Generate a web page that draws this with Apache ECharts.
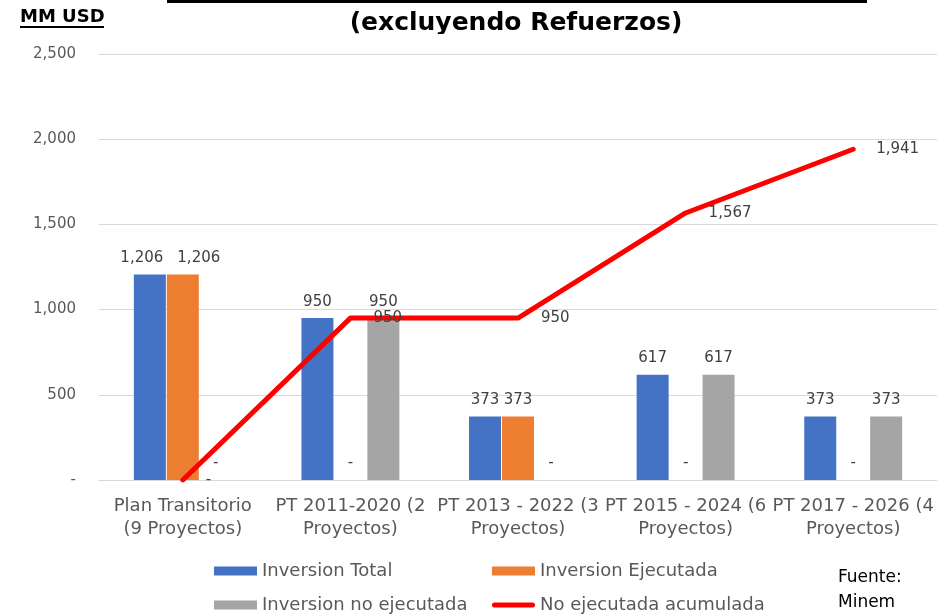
<!DOCTYPE html>
<html>
	<head>
		<meta charset="utf-8">
		<title></title>
		<script type="text/javascript" src="https://cdn.jsdelivr.net/npm/echarts@6/dist/echarts.min.js"></script>
		<style>
			html, body { margin: 0; padding: 0; background: #fff; }
		</style>
	</head>
	<body>
		<div id="main" style="width: 939px;height:614px;"></div>
	</body>
	<script type="text/javascript">
	        // datos del gráfico
	        var categorias = [
	            'Plan Transitorio\n(9 Proyectos)',
	            'PT 2011-2020 (2\nProyectos)',
	            'PT 2013 - 2022 (3\nProyectos)',
	            'PT 2015 - 2024 (6\nProyectos)',
	            'PT 2017 - 2026 (4\nProyectos)'
	        ];
	        var inversionTotal = [1206, 950, 373, 617, 373];
	        var inversionEjecutada = [1206, 0, 373, 0, 0];
	        var inversionNoEjecutada = [0, 950, 0, 617, 373];
	        var noEjecutadaAcumulada = [0, 950, 950, 1567, 1941];
	        var ejeY = { min: 0, max: 2500, interval: 500 };

	        var fuente = 'DejaVu Sans';

	        function miles(v) {
	            if (v === 0) return '-';
	            return String(v).replace(/\B(?=(\d{3})+(?!\d))/g, ',');
	        }

	        function etiquetaBarra() {
	            return {
	                show: true,
	                position: 'top',
	                distance: 9,
	                fontFamily: fuente,
	                fontSize: 15,
	                color: '#404040',
	                formatter: function (p) { return miles(p.value); }
	            };
	        }

	        // Excel separa las etiquetas que se tapan (1,206 / 1,206)
	        function separar(valores, otros, dx) {
	            return valores.map(function (v, i) {
	                if (v >= 1000 && otros[i] >= 1000) {
	                    return { value: v, label: { offset: [dx, 0] } };
	                }
	                return v;
	            });
	        }

	        var iconoLinea = 'path://M2.5,0 L40.5,0 A2.5,2.5 0 0 1 40.5,5 L2.5,5 A2.5,2.5 0 0 1 2.5,0 Z';
	        var textoLeyenda = { fontFamily: fuente, fontSize: 18, color: '#595959', lineHeight: 18 };

	        var myChart = echarts.init(document.getElementById('main'));

	        myChart.setOption({
	            animation: false,
	            grid: { left: 99, right: 2, top: 54, bottom: 134 },
	            legend: [
	                {
	                    orient: 'vertical',
	                    left: 214,
	                    top: 562,
	                    height: 120,
	                    padding: 0,
	                    icon: 'rect',
	                    itemWidth: 43,
	                    itemHeight: 9,
	                    itemGap: 16,
	                    textStyle: textoLeyenda,
	                    data: ['Inversion Total', 'Inversion no ejecutada']
	                },
	                {
	                    orient: 'vertical',
	                    left: 492,
	                    top: 562,
	                    height: 120,
	                    padding: 0,
	                    icon: 'rect',
	                    itemWidth: 43,
	                    itemHeight: 9,
	                    itemGap: 16,
	                    textStyle: textoLeyenda,
	                    data: ['Inversion Ejecutada', { name: 'No ejecutada acumulada', icon: iconoLinea }]
	                }
	            ],
	            xAxis: {
	                type: 'category',
	                data: categorias,
	                axisTick: { show: false },
	                axisLine: { lineStyle: { color: '#D9D9D9', width: 1 } },
	                axisLabel: {
	                    interval: 0,
	                    margin: 15,
	                    fontFamily: fuente,
	                    fontSize: 18,
	                    lineHeight: 23,
	                    color: '#595959'
	                }
	            },
	            yAxis: {
	                type: 'value',
	                min: ejeY.min,
	                max: ejeY.max,
	                interval: ejeY.interval,
	                axisLine: { show: false },
	                axisTick: { show: false },
	                splitLine: { lineStyle: { color: '#D9D9D9', width: 1 } },
	                axisLabel: {
	                    margin: 23,
	                    fontFamily: fuente,
	                    fontSize: 15,
	                    color: '#595959',
	                    formatter: miles
	                }
	            },
	            series: [
	                {
	                    name: 'Inversion Total',
	                    type: 'bar',
	                    barWidth: 32,
	                    barGap: '3%',
	                    itemStyle: { color: '#4472C4' },
	                    label: etiquetaBarra(),
	                    data: separar(inversionTotal, inversionEjecutada, -8)
	                },
	                {
	                    name: 'Inversion Ejecutada',
	                    type: 'bar',
	                    barWidth: 32,
	                    barGap: '3%',
	                    itemStyle: { color: '#ED7D31' },
	                    label: etiquetaBarra(),
	                    data: separar(inversionEjecutada, inversionTotal, 16)
	                },
	                {
	                    name: 'Inversion no ejecutada',
	                    type: 'bar',
	                    barWidth: 32,
	                    barGap: '3%',
	                    itemStyle: { color: '#A5A5A5' },
	                    label: etiquetaBarra(),
	                    data: inversionNoEjecutada
	                },
	                {
	                    name: 'No ejecutada acumulada',
	                    type: 'line',
	                    symbol: 'circle',
	                    symbolSize: 2,
	                    showSymbol: true,
	                    z: 5,
	                    itemStyle: { color: '#FF0000' },
	                    lineStyle: { color: '#FF0000', width: 5, cap: 'round', join: 'round' },
	                    label: {
	                        show: true,
	                        position: 'right',
	                        distance: 22,
	                        fontFamily: fuente,
	                        fontSize: 15,
	                        color: '#404040',
	                        formatter: function (p) { return miles(p.value); }
	                    },
	                    data: noEjecutadaAcumulada
	                }
	            ],
	            graphic: [
	                // raya negra del titulo cortado arriba
	                { type: 'rect', shape: { x: 167, y: 0, width: 700, height: 3 }, style: { fill: '#000' }, z: 10 },
	                {
	                    type: 'text', x: 516, y: 23, z: 10,
	                    style: {
	                        text: '(excluyendo Refuerzos)', fontFamily: fuente, fontWeight: 'bold', fontSize: 25,
	                        fill: '#000', align: 'center', verticalAlign: 'middle'
	                    }
	                },
	                { type: 'rect', shape: { x: 330, y: 34, width: 380, height: 12 }, style: { fill: '#fff' }, z: 11 },
	                {
	                    type: 'text', x: 20, y: 17, z: 10,
	                    style: {
	                        text: 'MM USD', fontFamily: fuente, fontWeight: 'bold', fontSize: 18,
	                        fill: '#000', align: 'left', verticalAlign: 'middle'
	                    }
	                },
	                { type: 'rect', shape: { x: 20, y: 26, width: 84, height: 2 }, style: { fill: '#000' }, z: 10 },
	                {
	                    type: 'text', x: 838, y: 578, z: 10,
	                    style: {
	                        text: 'Fuente:', fontFamily: fuente, fontSize: 17,
	                        fill: '#000', align: 'left', verticalAlign: 'middle'
	                    }
	                },
	                {
	                    type: 'text', x: 838, y: 603, z: 10,
	                    style: {
	                        text: 'Minem', fontFamily: fuente, fontSize: 17,
	                        fill: '#000', align: 'left', verticalAlign: 'middle'
	                    }
	                }
	            ]
	        });
	    </script>
</html>
